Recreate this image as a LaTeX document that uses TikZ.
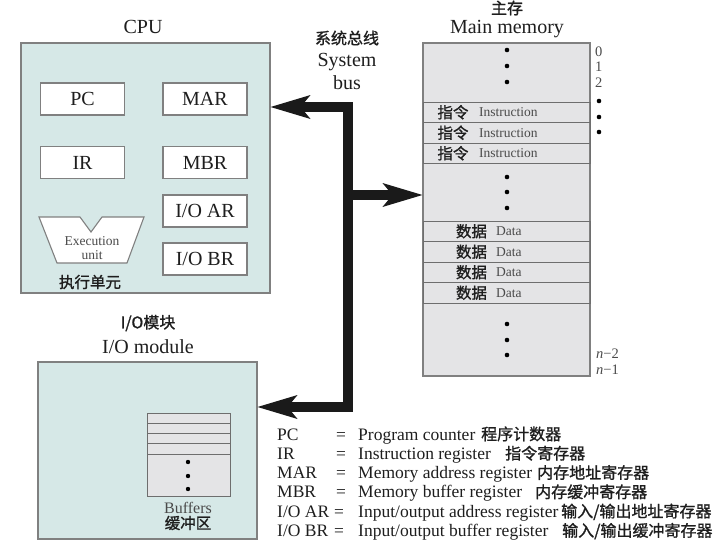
\documentclass[tikz,border=0pt]{standalone}
\usepackage{fontspec}
\setmainfont{Liberation Serif}
\newfontfamily\cjk{Noto Sans CJK SC}[FakeBold=1.2]
\usetikzlibrary{arrows.meta}
\definecolor{cpufill}{HTML}{D6E8E7}
\definecolor{memfill}{HTML}{E4E4E6}
\definecolor{bordergray}{HTML}{808080}
\definecolor{rowgray}{HTML}{6E6E6E}
\definecolor{busc}{HTML}{1A1A1A}
\definecolor{txt}{HTML}{1E1E1E}
\definecolor{softtxt}{HTML}{4A4A4A}
\newcommand{\fbig}{\fontsize{20}{24}\selectfont}
\newcommand{\fleg}{\fontsize{17.5}{20}\selectfont}
\newcommand{\fsmall}{\fontsize{13.5}{16}\selectfont}
\newcommand{\faddr}{\fontsize{14.5}{16}\selectfont}
\newcommand{\fbuf}{\fontsize{16}{18}\selectfont}
\newcommand{\fcjk}{\fontsize{16}{18}\selectfont\cjk}
\newcommand{\fcjks}{\fontsize{15.5}{18}\selectfont\cjk}
\tikzset{bustip/.tip={Stealth[length=40pt,width=24pt,inset=10pt,line width=0pt]}}
\begin{document}
\begin{tikzpicture}[x=1pt,y=-1pt,
  box/.style={draw=bordergray, line width=1.1pt, inner sep=0pt},
  reg/.style={box, fill=white, minimum width=84pt, minimum height=32pt, font=\fbig, text=txt},
  memrow/.style={draw=rowgray, line width=0.9pt, inner sep=0pt, minimum width=167pt, minimum height=20.5pt},
  bufrow/.style={draw=rowgray, line width=1pt, inner sep=0pt, minimum width=83pt, minimum height=10.25pt, fill=memfill},
  biglbl/.style={font=\fbig, text=txt, inner sep=0pt, anchor=base},
  cjklbl/.style={font=\fcjk, text=txt, inner sep=0pt},
  cjkrow/.style={font=\fcjks, text=txt, inner sep=0pt},
  rowtxt/.style={font=\fsmall, text=softtxt, inner sep=0pt, anchor=west},
  addr/.style={font=\faddr, text=softtxt, inner sep=0pt, anchor=base west},
  legtxt/.style={font=\fleg, text=txt, inner sep=0pt, anchor=base west},
  legeq/.style={font=\fleg, text=txt, inner sep=0pt, anchor=base},
  legcjk/.style={font=\fcjk, text=txt, inner sep=0pt, anchor=base west},
  bus/.style={line width=10pt, draw=busc, line join=miter},
  dotc/.style={fill=black}
]
\useasboundingbox (0,0) rectangle (718,555);

% ---------- CPU ----------
\node[box, fill=cpufill, minimum width=249pt, minimum height=250pt] (cpu) at (145.5,168) {};
\node[biglbl] (cpulbl) at (143,33) {CPU};
\node[reg] (pc) at (82.5,99) {PC};
\node[reg] (mar) at (205,99) {MAR};
\node[reg] (ir) at (82.5,162.5) {IR};
\node[reg] (mbr) at (205,162.5) {MBR};
\node[reg] (ioar) at (205,211) {I/O AR};
\node[reg] (iobr) at (205,259) {I/O BR};
\draw[box, fill=white] (39,217) -- (80,217) -- (91,232) -- (102,217) -- (144,217) -- (127,263) -- (57,263) -- cycle;
\node[font=\fsmall, text=softtxt, inner sep=0pt, anchor=base] (exe1) at (92,245) {Execution};
\node[font=\fsmall, text=softtxt, inner sep=0pt, anchor=base] (exe2) at (92,259) {unit};
\node[cjkrow] (exezh) at (90,282) {执行单元};

% ---------- Main memory ----------
\node[cjklbl] (memzh) at (507,8) {主存};
\node[biglbl] (memlbl) at (507,33) {Main memory};
\node[box, fill=memfill, minimum width=167pt, minimum height=333pt] (mem) at (506.5,209.5) {};
\foreach \c/\n in {112.25/1,132.75/2,153.25/3}{
  \node[memrow] (ins\n) at (506.5,\c) {};
  \node[cjkrow] (inszh\n) at (453,\c) {指令};
  \node[rowtxt] (instx\n) at (479,\c) {Instruction};
}
\foreach \c/\n in {231.25/1,251.75/2,272.25/3,292.75/4}{
  \node[memrow] (dat\n) at (506.5,\c) {};
  \node[cjkrow] (datzh\n) at (471.5,\c) {数据};
  \node[rowtxt] (dattx\n) at (496,\c) {Data};
}
\foreach \y in {50,66,82,177,192,208,324,340,355}{
  \fill[dotc] (507,\y) circle[radius=2.3pt];
}
\node[addr] (a0) at (595,56) {0};
\node[addr] (a1) at (595,71.5) {1};
\node[addr] (a2) at (595,87) {2};
\foreach \y in {101,117,132}{
  \fill[dotc] (599,\y) circle[radius=2.3pt];
}
\node[addr] (an2) at (596,358) {\textit{n}−2};
\node[addr] (an1) at (596,374) {\textit{n}−1};

% ---------- System bus label ----------
\node[cjklbl] (buszh) at (347,38) {系统总线};
\node[biglbl] (bus1) at (347,66) {System};
\node[biglbl] (bus2) at (347,89) {bus};

% ---------- I/O module ----------
\node[cjklbl] (iozh) at (148,323) {I/O模块};
\node[biglbl] (iolbl) at (148,353) {I/O module};
\node[box, fill=cpufill, minimum width=219pt, minimum height=177pt] (io) at (147.5,450.5) {};
\node[draw=rowgray, line width=1pt, fill=memfill, inner sep=0pt, minimum width=83pt, minimum height=83pt] (buf) at (188.5,454.5) {};
\foreach \c/\n in {418.5/1,429/2,439/3,449/4}{
  \node[bufrow] (br\n) at (188.5,\c) {};
}
\foreach \y in {462,476,489}{
  \fill[dotc] (188,\y) circle[radius=2.2pt];
}
\node[font=\fbuf, text=softtxt, inner sep=0pt, anchor=base] (buflbl) at (188,513) {Buffers};
\node[cjkrow] (bufzh) at (188,523) {缓冲区};

% ---------- System bus ----------
\coordinate (bt) at (348,107);
\coordinate (bm) at (348,195);
\coordinate (bb) at (348,407);
\draw[bus, bustip-bustip] (cpu.east |- bt) -- (bt) -- (bb) -- (io.east |- bb);
\draw[bus, -bustip] (bm) -- (mem.west |- bm);

% ---------- Legend ----------
\node[legtxt] (l1) at (277,440) {PC};
\node[legeq] (e1) at (341,440) {=};
\node[legtxt] (d1) at (358,440) {Program counter};
\node[legcjk] (c1) at (481,440) {程序计数器};

\node[legtxt] (l2) at (277,459.3) {IR};
\node[legeq] (e2) at (341,459.3) {=};
\node[legtxt] (d2) at (358,459.3) {Instruction register};
\node[legcjk] (c2) at (505,459.3) {指令寄存器};

\node[legtxt] (l3) at (277,478.6) {MAR};
\node[legeq] (e3) at (341,478.6) {=};
\node[legtxt] (d3) at (358,478.6) {Memory address register};
\node[legcjk] (c3) at (537,478.6) {内存地址寄存器};

\node[legtxt] (l4) at (277,497.9) {MBR};
\node[legeq] (e4) at (341,497.9) {=};
\node[legtxt] (d4) at (358,497.9) {Memory buffer register};
\node[legcjk] (c4) at (535,497.9) {内存缓冲寄存器};

\node[legtxt] (l5) at (277,517.2) {I/O AR};
\node[legeq] (e5) at (339,517.2) {=};
\node[legtxt] (d5) at (358,517.2) {Input/output address register};
\node[legcjk] (c5) at (561,517.2) {输入/输出地址寄存器};

\node[legtxt] (l6) at (277,536.5) {I/O BR};
\node[legeq] (e6) at (339,536.5) {=};
\node[legtxt] (d6) at (358,536.5) {Input/output buffer register};
\node[legcjk] (c6) at (562,536.5) {输入/输出缓冲寄存器};
\end{tikzpicture}
\end{document}
